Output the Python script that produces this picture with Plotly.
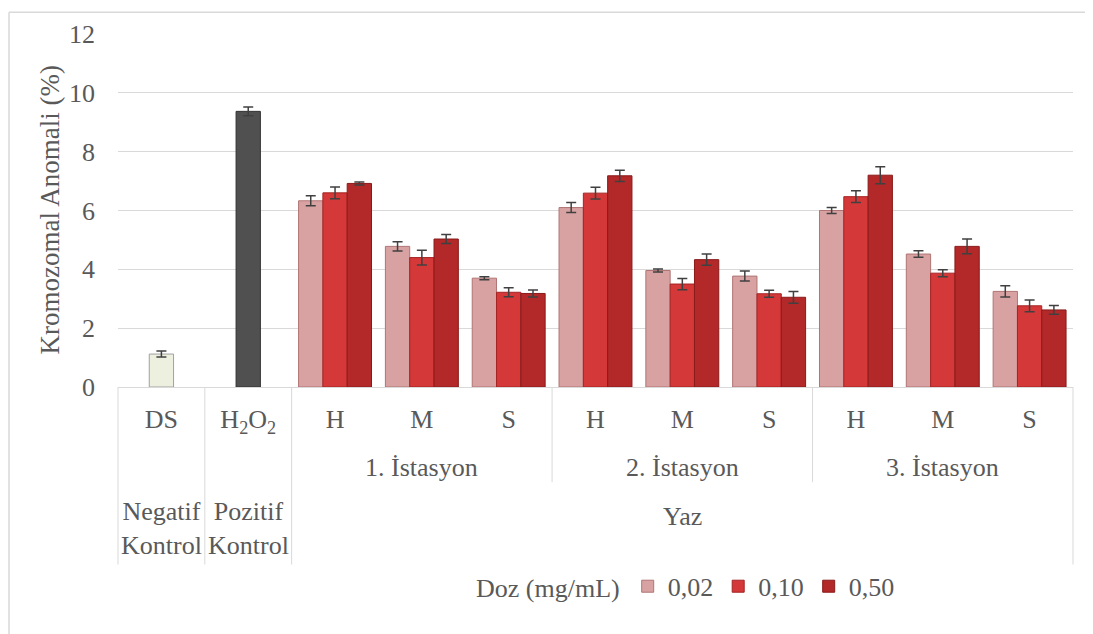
import plotly.graph_objects as go

# ---- data ----
level1_labels = ["DS", "H<sub>2</sub>O<sub>2</sub>", "H", "M", "S", "H", "M", "S", "H", "M", "S"]
stations = ["1. İstasyon", "2. İstasyon", "3. İstasyon"]
season = "Yaz"
controls = ["Negatif<br>Kontrol", "Pozitif<br>Kontrol"]

control_values = [1.12, 9.37]
control_errors = [0.10, 0.15]

doses = ["0,02", "0,10", "0,50"]
dose_002 = [6.33, 4.78, 3.70, 6.10, 3.96, 3.77, 6.00, 4.52, 3.25]
dose_010 = [6.60, 4.40, 3.22, 6.59, 3.50, 3.17, 6.47, 3.87, 2.76]
dose_050 = [6.92, 5.03, 3.18, 7.18, 4.33, 3.05, 7.20, 4.78, 2.62]
err_002 = [0.17, 0.16, 0.05, 0.17, 0.05, 0.17, 0.10, 0.11, 0.19]
err_010 = [0.20, 0.25, 0.15, 0.20, 0.19, 0.12, 0.20, 0.12, 0.20]
err_050 = [0.05, 0.15, 0.12, 0.19, 0.19, 0.20, 0.29, 0.25, 0.15]

FONT = "Liberation Serif, Times New Roman, serif"
TXT = "#595959"
FS = 26
GRID = "#D9D9D9"

n_cat = len(level1_labels)
x_ctrl = [0, 1]
x_st = list(range(2, n_cat))

fig = go.Figure()

# control bars
ctrl_fill = ["#EEF0DF", "#505050"]
ctrl_line = ["#A0A0A0", "#333333"]
for i in range(2):
    fig.add_trace(go.Bar(
        x=[x_ctrl[i]], y=[control_values[i]], width=0.28,
        marker=dict(color=ctrl_fill[i], line=dict(color=ctrl_line[i], width=1)),
        error_y=dict(type="data", array=[control_errors[i]], color="#404040", thickness=1.5, width=5),
        showlegend=False, hoverinfo="y",
    ))

# dose bars
series = [dose_002, dose_010, dose_050]
errs = [err_002, err_010, err_050]
fills = ["#D9A2A2", "#D43838", "#B32828"]
lines = ["#B07474", "#A52424", "#8A1A1A"]
bw = 0.28
for i in range(3):
    fig.add_trace(go.Bar(
        x=x_st, y=series[i], width=bw, offset=-1.5 * bw + i * bw,
        name=doses[i],
        marker=dict(color=fills[i], line=dict(color=lines[i], width=1)),
        error_y=dict(type="data", array=errs[i], color="#404040", thickness=1.5, width=5),
    ))

x_lo, x_hi = -0.5, n_cat - 0.5
def px(xv):
    return (xv - x_lo) / (x_hi - x_lo)

# geometry in page (window) pixels; page body has an 8px margin
PAGE_OFF = 8
plot_left, plot_right = 118, 1073
plot_top, plot_bot = 31, 387
pw = plot_right - plot_left
ph = plot_bot - plot_top
def py(pix):
    return (plot_bot - pix) / ph
def pxp(pix):
    return (pix - plot_left) / pw

shapes = []
for xv in [-0.5, 0.5, 1.5, n_cat - 0.5]:
    shapes.append(dict(type="line", xref="paper", yref="paper", x0=px(xv), x1=px(xv),
                       y0=0, y1=py(566), line=dict(color=GRID, width=1)))
for xv in [4.5, 7.5]:
    shapes.append(dict(type="line", xref="paper", yref="paper", x0=px(xv), x1=px(xv),
                       y0=0, y1=py(483), line=dict(color=GRID, width=1)))
shapes.append(dict(type="line", xref="paper", yref="paper", x0=pxp(9), x1=pxp(1110),
                   y0=py(9), y1=py(9), line=dict(color=GRID, width=1.5)))
shapes.append(dict(type="line", xref="paper", yref="paper", x0=pxp(9), x1=pxp(9),
                   y0=py(9), y1=py(660), line=dict(color=GRID, width=1.5)))

annotations = []
for i, st in enumerate(stations):
    annotations.append(dict(x=3 + 3 * i, y=py(468), xref="x", yref="paper", text=st,
                            showarrow=False, font=dict(family=FONT, size=FS, color=TXT),
                            xanchor="center", yanchor="middle"))
annotations.append(dict(x=6, y=py(518), xref="x", yref="paper", text=season,
                        showarrow=False, font=dict(family=FONT, size=FS, color=TXT),
                        xanchor="center", yanchor="middle"))
for i, c in enumerate(controls):
    annotations.append(dict(x=x_ctrl[i], y=py(530), xref="x", yref="paper", text=c,
                            showarrow=False, font=dict(family=FONT, size=FS, color=TXT),
                            xanchor="center", yanchor="middle"))
annotations.append(dict(x=pxp(49), y=0.5, xref="paper", yref="paper",
                        text="Kromozomal Anomali (%)", textangle=-90, showarrow=False,
                        font=dict(family=FONT, size=27, color=TXT),
                        xanchor="center", yanchor="middle"))

fig.update_layout(
    width=1093, height=634,
    margin=dict(l=plot_left - PAGE_OFF, r=1093 - (plot_right - PAGE_OFF),
                t=plot_top - PAGE_OFF, b=634 - (plot_bot - PAGE_OFF)),
    paper_bgcolor="white", plot_bgcolor="white",
    barmode="overlay",
    font=dict(family=FONT, size=FS, color=TXT),
    xaxis=dict(range=[x_lo, x_hi], tickvals=list(range(n_cat)), ticktext=level1_labels,
               showgrid=False, zeroline=False, showline=True, linecolor=GRID, linewidth=1,
               ticks="", ticklabelstandoff=9, tickfont=dict(family=FONT, size=FS, color=TXT)),
    yaxis=dict(range=[0, 12], dtick=2, showgrid=True, gridcolor=GRID, gridwidth=1,
               zeroline=False, showline=False, ticks="", ticklabelstandoff=22,
               tickfont=dict(family=FONT, size=FS, color=TXT)),
    legend=dict(orientation="h", x=pxp(474), xanchor="left",
                y=py(588), yanchor="middle",
                title=dict(text="Doz (mg/mL)", font=dict(family=FONT, size=FS, color=TXT)),
                font=dict(family=FONT, size=FS, color=TXT), bgcolor="rgba(0,0,0,0)"),
    shapes=shapes, annotations=annotations,
)

fig.write_html("out.html")
